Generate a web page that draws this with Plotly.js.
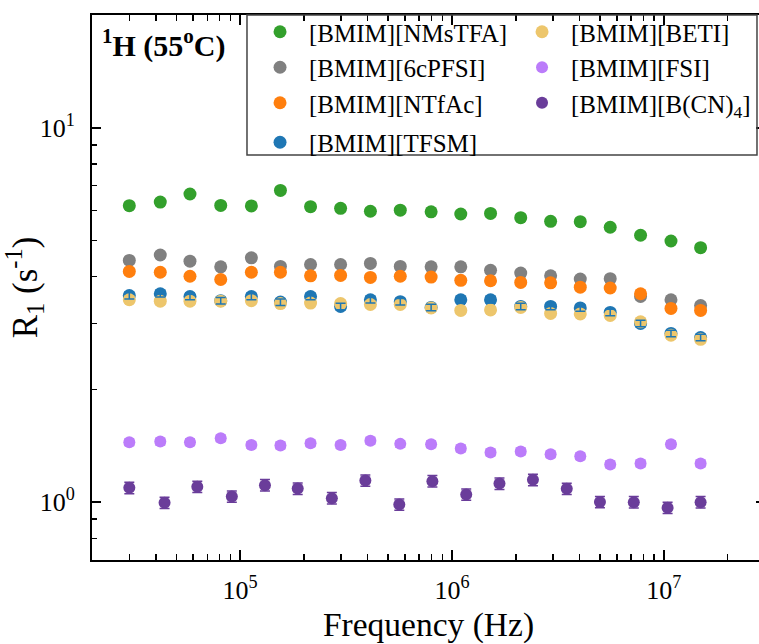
<!DOCTYPE html>
<html>
<head>
<meta charset="utf-8">
<script src="https://cdn.plot.ly/plotly-3.0.1.min.js"></script>
<style>
html, body { margin: 0; padding: 0; overflow: hidden; background: #fff; }
#chart { width: 770px; height: 644px; }
</style>
</head>
<body>
<div id="chart"></div>
<script>
// Frequencies (Hz) for most series (20 points)
var freqA = [3.0e4, 4.2e4, 5.8e4, 8.1e4, 1.13e5, 1.55e5, 2.15e5, 2.98e5, 4.12e5, 5.7e5,
             7.97e5, 1.10e6, 1.52e6, 2.11e6, 2.92e6, 4.03e6, 5.58e6, 7.76e6, 1.08e7, 1.49e7];
// Frequencies (Hz) for [BMIM][B(CN)4] (18 points)
var freqB = [3.0e4, 4.4e4, 6.28e4, 9.14e4, 1.31e5, 1.87e5, 2.71e5, 3.9e5, 5.64e5,
             8.08e5, 1.167e6, 1.675e6, 2.41e6, 3.48e6, 4.99e6, 7.21e6, 1.041e7, 1.49e7];

var r1_NMsTFA = [6.19, 6.33, 6.65, 6.20, 6.18, 6.80, 6.15, 6.09, 5.98, 6.02,
                 5.96, 5.88, 5.90, 5.75, 5.62, 5.61, 5.42, 5.16, 4.98, 4.78];
var r1_6cPFSI = [4.42, 4.57, 4.40, 4.25, 4.49, 4.26, 4.31, 4.31, 4.34, 4.26,
                 4.25, 4.25, 4.16, 4.09, 4.02, 3.94, 3.95, 3.54, 3.47, 3.35];
var r1_NTfAc  = [4.13, 4.11, 4.01, 3.93, 4.11, 4.11, 4.02, 4.03, 3.98, 4.01,
                 3.99, 3.91, 3.90, 3.86, 3.85, 3.75, 3.73, 3.60, 3.29, 3.25];
var r1_TFSM   = [3.56, 3.60, 3.54, 3.45, 3.54, 3.42, 3.54, 3.33, 3.47, 3.43,
                 3.31, 3.47, 3.47, 3.33, 3.33, 3.30, 3.21, 3.00, 2.82, 2.75];
var r1_BETI   = [3.47, 3.44, 3.44, 3.44, 3.45, 3.39, 3.40, 3.39, 3.37, 3.37,
                 3.30, 3.25, 3.26, 3.31, 3.19, 3.18, 3.15, 3.03, 2.79, 2.72];
var r1_FSI    = [1.445, 1.45, 1.445, 1.48, 1.42, 1.415, 1.436, 1.42, 1.457, 1.43,
                 1.427, 1.39, 1.356, 1.364, 1.342, 1.325, 1.26, 1.267, 1.427, 1.267];
var r1_BCN4   = [1.091, 0.995, 1.098, 1.034, 1.109, 1.086, 1.024, 1.141, 0.985,
                 1.137, 1.047, 1.12, 1.146, 1.085, 1.00, 0.999, 0.965, 0.999];

var names = {
  NMsTFA: '[BMIM][NMsTFA]', c6PFSI: '[BMIM][6cPFSI]', NTfAc: '[BMIM][NTfAc]',
  TFSM: '[BMIM][TFSM]', BETI: '[BMIM][BETI]', FSI: '[BMIM][FSI]',
  BCN4: '[BMIM][B(CN)<sub>4</sub>]'
};

var xTickVals = [1e5, 1e6, 1e7];
var xTickText = ['10<sup>5</sup>', '10<sup>6</sup>', '10<sup>7</sup>'];
var yTickVals = [1, 10];
var yTickText = ['10<sup>0</sup>', '10<sup>1</sup>'];
var xMinor = [2e4, 3e4, 4e4, 5e4, 6e4, 7e4, 8e4, 9e4,
              2e5, 3e5, 4e5, 5e5, 6e5, 7e5, 8e5, 9e5,
              2e6, 3e6, 4e6, 5e6, 6e6, 7e6, 8e6, 9e6, 2e7, 3e7];
var yMinor = [0.7, 0.8, 0.9, 2, 3, 4, 5, 6, 7, 8, 9, 20];

var serif = 'Liberation Serif, Times New Roman, serif';

function series(x, y, name, color, rank, size, pct, legendId, group) {
  return {
    type: 'scatter', mode: 'markers', x: x, y: y, name: name, legendrank: rank,
    legend: legendId, legendgroup: group,
    marker: { color: color, size: size },
    error_y: { type: 'percent', value: pct, color: color, thickness: 1.5, width: 5 }
  };
}

var traces = [
  series(freqA, r1_6cPFSI, names.c6PFSI, '#808080', 2, 13, 2, 'legend', 'g1'),
  series(freqA, r1_NTfAc, names.NTfAc, '#ff7f0e', 3, 13, 2, 'legend', 'g1'),
  series(freqA, r1_NMsTFA, names.NMsTFA, '#33a02c', 1, 13, 2, 'legend', 'g1'),
  series(freqA, r1_TFSM, names.TFSM, '#1f77b4', 4, 13, 2, 'legend', 'g2'),
  series(freqA, r1_BETI, names.BETI, '#edc66c', 1, 13, 2, 'legend2', 'g3'),
  series(freqA, r1_FSI, names.FSI, '#bb7cfa', 2, 12, 2, 'legend2', 'g3'),
  series(freqB, r1_BCN4, names.BCN4, '#6a3d9a', 3, 12, 3.5, 'legend2', 'g3')
];
// TFSM error bars drawn over the BETI markers
traces.push({
  type: 'scatter', mode: 'markers', x: freqA, y: r1_TFSM, showlegend: false, hoverinfo: 'skip',
  marker: { color: 'rgba(0,0,0,0)', size: 1 },
  error_y: { type: 'percent', value: 2, color: '#1f77b4', thickness: 1.5, width: 5 }
});

var axisFont = { family: serif, size: 26, color: '#000' };
var legendFont = { family: serif, size: 25, color: '#000' };

var layout = {
  width: 770, height: 644,
  margin: { l: 92, r: 5, t: 15, b: 84 },
  paper_bgcolor: '#fff', plot_bgcolor: '#fff',
  font: { family: serif, color: '#000' },
  showlegend: true,
  legend: {
    orientation: 'v', x: 0.2363, xanchor: 'left', y: 1.011, yanchor: 'top',
    borderwidth: 0, bgcolor: 'rgba(0,0,0,0)', font: legendFont,
    itemwidth: 48, tracegroupgap: 4, traceorder: 'grouped'
  },
  legend2: {
    orientation: 'v', x: 0.6256, xanchor: 'left', y: 1.011, yanchor: 'top',
    borderwidth: 0, bgcolor: 'rgba(0,0,0,0)', font: legendFont,
    itemwidth: 48, tracegroupgap: 0, traceorder: 'grouped'
  },
  shapes: [{
    type: 'rect', xref: 'paper', yref: 'paper', x0: 0.2303, x1: 0.9881, y0: 0.7431, y1: 1,
    line: { color: '#444', width: 1.5 }, fillcolor: 'rgba(255,255,255,0)', layer: 'above'
  }],
  xaxis: {
    type: 'log', range: [Math.log10(2e4), Math.log10(3e7)],
    showgrid: false, zeroline: false,
    showline: true, linecolor: '#000', linewidth: 2, mirror: 'ticks',
    ticks: 'inside', ticklen: 10, tickwidth: 2, tickcolor: '#000',
    tickmode: 'array', tickvals: xTickVals, ticktext: xTickText,
    tickfont: axisFont, ticklabelstandoff: 6,
    minor: { tickmode: 'array', tickvals: xMinor, ticks: 'inside', ticklen: 6, tickwidth: 1.5, tickcolor: '#000', showgrid: false },
    title: { text: 'Frequency (Hz)', font: { family: serif, size: 33.5, color: '#000' }, standoff: 12 }
  },
  yaxis: {
    type: 'log', range: [Math.log10(0.7), Math.log10(20)],
    showgrid: false, zeroline: false,
    showline: true, linecolor: '#000', linewidth: 2, mirror: 'ticks',
    ticks: 'inside', ticklen: 9, tickwidth: 2, tickcolor: '#000',
    tickmode: 'array', tickvals: yTickVals, ticktext: yTickText,
    tickfont: axisFont, ticklabelstandoff: 10,
    minor: { tickmode: 'array', tickvals: yMinor, ticks: 'inside', ticklen: 5, tickwidth: 1.5, tickcolor: '#000', showgrid: false },
    title: { text: 'R<sub>1</sub> (s<sup>-1</sup>)', font: { family: serif, size: 35, color: '#000' }, standoff: 2 }
  },
  annotations: [{
    xref: 'paper', yref: 'paper', x: 0.012, y: 0.987, xanchor: 'left', yanchor: 'top',
    text: '<b><sup>1</sup>H (55<sup>o</sup>C)</b>', showarrow: false,
    font: { family: serif, size: 30, color: '#000' }
  }]
};

Plotly.newPlot('chart', traces, layout, { displayModeBar: false, staticPlot: true });
</script>
</body>
</html>
